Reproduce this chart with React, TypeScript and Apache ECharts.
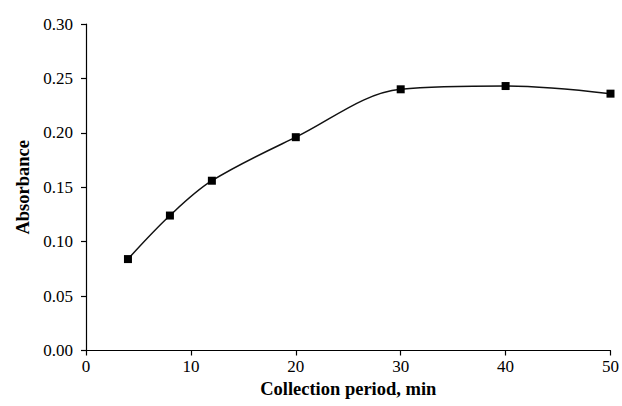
import React, { useEffect, useRef } from "react";
import * as echarts from "echarts";

const periods = [4, 8, 12, 20, 30, 40, 50];
const absorbance = [0.084, 0.124, 0.156, 0.196, 0.24, 0.243, 0.236];
const xTitle = "Collection period, min";
const yTitle = "Absorbance";

export default function App() {
  const ref = useRef<HTMLDivElement>(null);
  useEffect(() => {
    if (!ref.current) return;
    const chart = echarts.init(ref.current, null, { renderer: "svg" });
    const font = "'Liberation Serif', 'DejaVu Serif', serif";
    chart.setOption({
      animation: false,
      backgroundColor: "#ffffff",
      grid: { left: 86, right: 10.5, top: 24, bottom: 55.5, containLabel: false },
      xAxis: {
        type: "value",
        min: 0,
        max: 50,
        interval: 10,
        name: xTitle,
        nameLocation: "middle",
        nameGap: 27,
        nameTextStyle: { fontFamily: font, fontSize: 18.5, fontWeight: "bold", color: "#000" },
        axisLine: { show: true, lineStyle: { color: "#000", width: 1.2 } },
        axisTick: { show: true, length: 5, lineStyle: { color: "#000", width: 1.2 } },
        axisLabel: { fontFamily: font, fontSize: 17, color: "#000", margin: 7 },
        splitLine: { show: false },
      },
      yAxis: {
        type: "value",
        min: 0,
        max: 0.3,
        interval: 0.05,
        name: yTitle,
        nameLocation: "middle",
        nameGap: 53,
        nameTextStyle: { fontFamily: font, fontSize: 18.5, fontWeight: "bold", color: "#000" },
        axisLine: { show: true, lineStyle: { color: "#000", width: 1.2 } },
        axisTick: { show: true, length: 5, lineStyle: { color: "#000", width: 1.2 } },
        axisLabel: {
          fontFamily: font,
          fontSize: 17,
          color: "#000",
          margin: 13,
          formatter: (v: number) => v.toFixed(2),
        },
        splitLine: { show: false },
      },
      series: [
        {
          type: "line",
          data: periods.map((p, i) => [p, absorbance[i]]),
          smooth: 0.34,
          symbol: "rect",
          symbolSize: 8,
          itemStyle: { color: "#000" },
          lineStyle: { color: "#111", width: 1.5 },
          clip: false,
        },
      ],
    });
    return () => chart.dispose();
  }, []);
  return (
    <div
      ref={ref}
      style={{ position: "fixed", left: 0, top: 0, width: 622, height: 406, background: "#fff" }}
    />
  );
}
